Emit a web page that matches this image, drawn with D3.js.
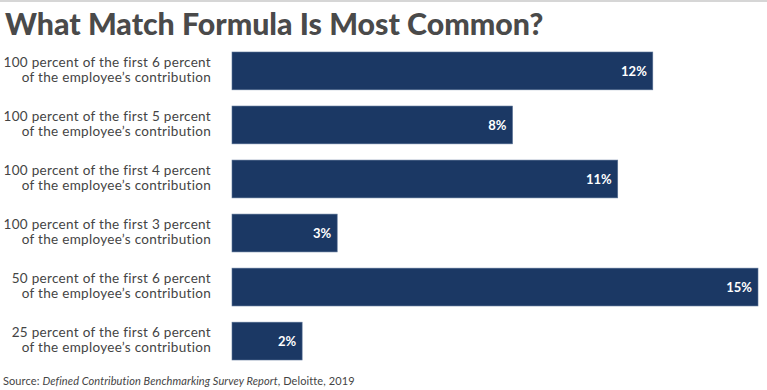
<!DOCTYPE html>
<html><head><meta charset="utf-8">
<script src="https://cdn.jsdelivr.net/npm/d3@7"></script>
<style>body{margin:0;background:#fff}svg{display:block}</style>
</head><body>
<script>
const categories = [
  ["100 percent of the first 6 percent", "of the employee’s contribution"],
  ["100 percent of the first 5 percent", "of the employee’s contribution"],
  ["100 percent of the first 4 percent", "of the employee’s contribution"],
  ["100 percent of the first 3 percent", "of the employee’s contribution"],
  ["50 percent of the first 6 percent", "of the employee’s contribution"],
  ["25 percent of the first 6 percent", "of the employee’s contribution"]
];
const values = [12, 8, 11, 3, 15, 2];
const title = "What Match Formula Is Most Common?";

const W = 767, H = 390;
const svg = d3.select("body").append("svg").attr("width", W).attr("height", H);
const font = "Lato, 'Open Sans', sans-serif";

svg.append("rect").attr("x", 0).attr("y", 0).attr("width", W).attr("height", 2).attr("fill", "#d6d6d6");

svg.append("text").attr("x", 5).attr("y", 35).text(title)
  .attr("font-family", font).attr("font-weight", 900).attr("font-size", 30.3).attr("fill", "#4a4a4a");

const x = d3.scaleLinear().domain([0, 15]).range([232, 758]);
const y = d3.scaleBand().domain(d3.range(values.length)).range([52, 360]).paddingInner(0.3).paddingOuter(0);

const g = svg.append("g");
values.forEach((v, i) => {
  const yy = y(i), bh = y.bandwidth(), cy = yy + bh / 2;
  g.append("rect").attr("x", x(0)).attr("y", yy).attr("width", x(v) - x(0)).attr("height", bh)
    .attr("fill", "#1b3864").attr("stroke", "#5a7396").attr("stroke-width", 0.6);
  g.append("text").attr("x", x(v) - 6).attr("y", cy + 5).attr("text-anchor", "end")
    .attr("font-family", font).attr("font-weight", 700).attr("font-size", 13).attr("fill", "#fff").text(v + "%");
  const t = g.append("text").attr("text-anchor", "end").attr("font-family", font)
    .attr("font-size", 13.5).attr("letter-spacing", 0.3).attr("fill", "#444");
  t.append("tspan").attr("x", 211).attr("y", cy - 4).text(categories[i][0]);
  t.append("tspan").attr("x", 211).attr("y", cy + 11).text(categories[i][1]);
});

const s = svg.append("text").attr("x", 3).attr("y", 385).attr("font-family", font)
  .attr("font-size", 11).attr("letter-spacing", 0.1).attr("fill", "#444");
s.append("tspan").text("Source: ");
s.append("tspan").attr("font-style", "italic").text("Defined Contribution Benchmarking Survey Report");
s.append("tspan").text(", Deloitte, 2019");
</script>
</body></html>
